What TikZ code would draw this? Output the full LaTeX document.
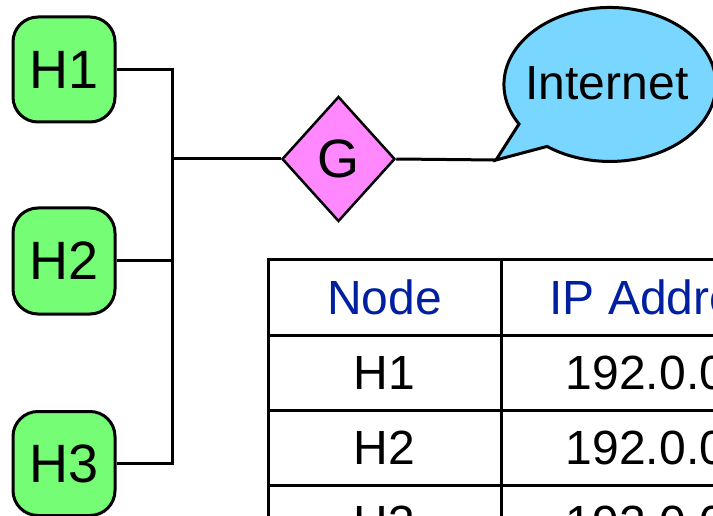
\documentclass[tikz,border=0pt]{standalone}
\usepackage{fontspec}
\setmainfont{Liberation Sans}
\usetikzlibrary{shapes.geometric}

\definecolor{hostgreen}{RGB}{118,253,118}
\definecolor{gatepink}{RGB}{255,136,255}
\definecolor{cloudblue}{RGB}{120,214,255}
\definecolor{headblue}{RGB}{0,32,160}

\tikzset{
  host/.style={draw, line width=3pt, fill=hostgreen, rounded corners=25pt,
    minimum width=102pt, inner sep=0pt, font=\fontsize{54}{60}\selectfont},
  gate/.style={draw, diamond, line width=2.5pt, fill=gatepink, inner sep=0pt,
    minimum width=113pt, minimum height=125pt, font=\fontsize{54}{60}\selectfont},
  wire/.style={line width=3pt},
  grid/.style={line width=3pt},
  cell/.style={font=\fontsize{48}{54}\selectfont, inner sep=0pt},
  headcell/.style={cell, text=headblue}
}

\begin{document}
\begin{tikzpicture}[x=1pt,y=1pt]
\useasboundingbox (0,0) rectangle (713,-516);
\clip (0,0) rectangle (713,-516);

% hosts
\node[host, minimum height=105pt] (h1) at (64,-69.5) {H1};
\node[host, minimum height=106pt] (h2) at (64,-261) {H2};
\node[host, minimum height=104pt] (h3) at (64,-463.5) {H3};

% gateway
\node[gate] (g) at (338.5,-159) {G};

% speech bubble for the Internet
\coordinate (tip) at (496,-160);
\filldraw[line width=3pt, fill=cloudblue, line join=miter]
  (519,-124) arc[start angle=210.9, end angle=-126.4, x radius=106pt, y radius=77pt]
  -- (tip) -- cycle;
\node[cell] (inet) at (607,-83) {Internet};

% wiring
\coordinate (bus) at (172,-159);
\draw[wire] (h1.east) -| (bus) -- (g.west);
\draw[wire] (h3.east) -| (bus);
\draw[wire] (h2.east) -- (h2.east -| bus);
\draw[wire] (g.east) -- (tip);

% address table
\draw[grid] (268,-640) |- (900,-260);
\draw[grid] (501,-260) -- (501,-640);
\foreach \yy in {-335,-410,-485}
  \draw[grid] (268,\yy) -- (900,\yy);

\node[headcell] (hn) at (384.5,-297.5) {Node};
\node[headcell] (ha) at (667,-297.5) {IP Address};
\node[cell] (r1n) at (384.5,-372.5) {H1};
\node[cell] (r1a) at (666,-372.5) {192.0.0.1};
\node[cell] (r2n) at (384.5,-447.5) {H2};
\node[cell] (r2a) at (666,-447.5) {192.0.0.2};
\node[cell] (r3n) at (384.5,-522.5) {H3};
\node[cell] (r3a) at (666,-522.5) {192.0.0.3};
\end{tikzpicture}
\end{document}
